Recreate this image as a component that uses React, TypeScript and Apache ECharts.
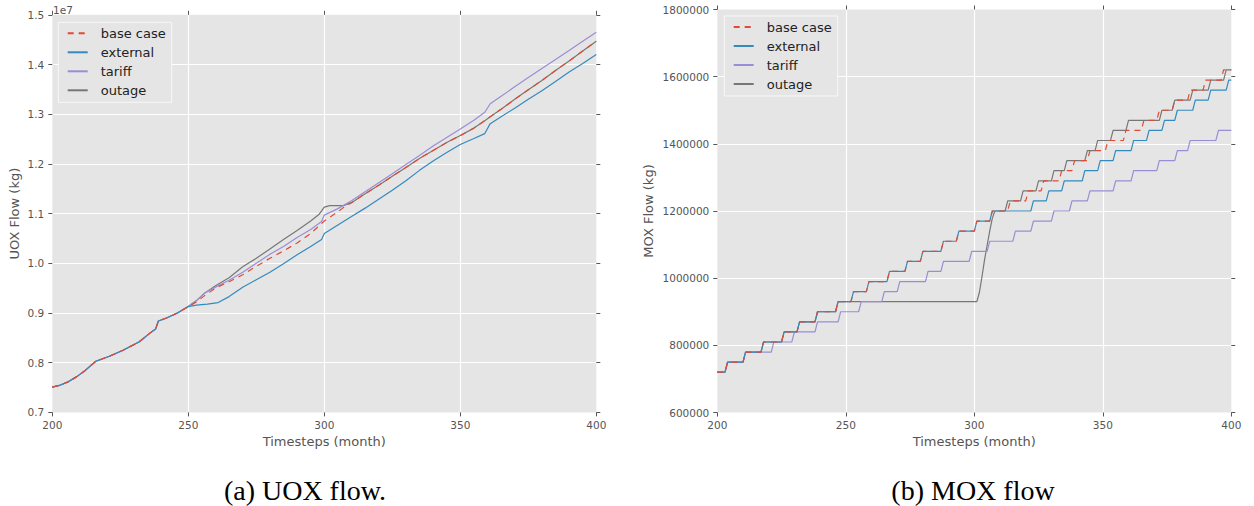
import React, { useEffect, useRef } from "react";
import * as echarts from "echarts";

// ---------- Colours ----------
const C_BASE = "#E24A33";
const C_EXTERNAL = "#348ABD";
const C_TARIFF = "#988ED5";
const C_OUTAGE = "#777777";

const SERIES_NAMES = ["base case", "external", "tariff", "outage"];

// ---------- UOX flow (units of 1e7 kg), [month, value] ----------
const uoxCommon: [number, number][] = [
  [200, 0.751], [203, 0.755], [206, 0.762], [209, 0.772], [212, 0.784], [216, 0.803],
  [221, 0.813], [226, 0.825], [232, 0.842], [236, 0.860], [238, 0.868], [239, 0.884],
  [242, 0.890], [246, 0.900], [250, 0.913],
];
const uoxBaseTail: [number, number][] = [
  [253, 0.922], [256, 0.935], [260, 0.950], [265, 0.963], [270, 0.977], [275, 0.994],
  [280, 1.010], [285, 1.025], [290, 1.041], [295, 1.060], [300, 1.085], [304, 1.100],
  [307, 1.112], [310, 1.122], [315, 1.140], [320, 1.157], [325, 1.175], [330, 1.193],
  [335, 1.211], [340, 1.227], [345, 1.243], [350, 1.257], [355, 1.272], [359, 1.287],
  [361, 1.295], [365, 1.310], [370, 1.330], [375, 1.349], [380, 1.368], [385, 1.388],
  [390, 1.407], [395, 1.427], [400, 1.447],
];
const uoxExternalTail: [number, number][] = [
  [253, 0.916], [257, 0.918], [261, 0.921], [265, 0.933], [270, 0.952], [275, 0.967],
  [280, 0.982], [285, 0.999], [290, 1.017], [295, 1.034], [299, 1.048], [300, 1.060],
  [305, 1.077], [310, 1.094], [315, 1.111], [320, 1.129], [325, 1.147], [330, 1.166],
  [335, 1.187], [340, 1.206], [345, 1.223], [350, 1.239], [355, 1.251], [359, 1.261],
  [361, 1.281], [365, 1.295], [370, 1.312], [375, 1.330], [380, 1.347], [385, 1.366],
  [390, 1.385], [395, 1.402], [400, 1.420],
];
const uoxTariffTail: [number, number][] = [
  [253, 0.925], [256, 0.940], [260, 0.952], [265, 0.966], [270, 0.982], [275, 1.000],
  [280, 1.018], [285, 1.034], [290, 1.052], [295, 1.068], [299, 1.084], [300, 1.097],
  [305, 1.110], [310, 1.126], [315, 1.144], [320, 1.162], [325, 1.180], [330, 1.199],
  [335, 1.217], [340, 1.236], [345, 1.253], [350, 1.270], [355, 1.288], [359, 1.304],
  [361, 1.321], [365, 1.336], [370, 1.355], [375, 1.374], [380, 1.392], [385, 1.410],
  [390, 1.428], [395, 1.447], [400, 1.465],
];
const uoxOutageTail: [number, number][] = [
  [253, 0.925], [256, 0.940], [260, 0.955], [265, 0.971], [270, 0.993], [275, 1.010],
  [280, 1.029], [285, 1.048], [290, 1.066], [295, 1.085], [298, 1.098], [300, 1.113],
  [302, 1.116], [307, 1.116], [310, 1.122], [315, 1.140], [320, 1.157], [325, 1.175],
  [330, 1.193], [335, 1.211], [340, 1.227], [345, 1.243], [350, 1.257], [355, 1.272],
  [359, 1.287], [361, 1.295], [365, 1.310], [370, 1.330], [375, 1.349], [380, 1.368],
  [385, 1.388], [390, 1.407], [395, 1.427], [400, 1.447],
];

// ---------- MOX flow (kg): [month where level is reached, level] ----------
const moxBaseSteps: [number, number][] = [
  [200, 720000], [204, 750000], [211, 780000], [218, 810000], [226, 840000], [232, 870000],
  [239, 900000], [247, 930000], [253, 960000], [259, 990000], [267, 1020000], [274, 1050000],
  [280, 1080000], [288, 1110000], [294, 1140000], [301, 1170000], [307, 1200000], [314, 1230000],
  [321, 1260000], [327, 1290000], [334, 1320000], [339, 1350000], [345, 1380000], [352, 1410000],
  [359, 1440000], [366, 1470000], [372, 1500000], [378, 1530000], [384, 1560000], [390, 1590000],
  [397, 1620000],
];
const moxExternalSteps: [number, number][] = [
  [200, 720000], [204, 750000], [211, 780000], [218, 810000], [226, 840000], [232, 870000],
  [239, 900000], [247, 930000], [253, 960000], [259, 990000], [267, 1020000], [274, 1050000],
  [280, 1080000], [288, 1110000], [294, 1140000], [301, 1170000], [307, 1200000], [323, 1230000],
  [329, 1260000], [335, 1290000], [343, 1320000], [349, 1350000], [355, 1380000], [362, 1410000],
  [368, 1440000], [374, 1470000], [379, 1500000], [386, 1530000], [392, 1560000], [399, 1590000],
];
const moxTariffSteps: [number, number][] = [
  [200, 720000], [204, 750000], [211, 780000], [222, 810000], [230, 840000], [239, 870000],
  [248, 900000], [256, 930000], [265, 960000], [271, 990000], [282, 1020000], [288, 1050000],
  [299, 1080000], [306, 1110000], [316, 1140000], [323, 1170000], [331, 1200000], [338, 1230000],
  [345, 1260000], [355, 1290000], [362, 1320000], [372, 1350000], [379, 1380000], [384, 1410000],
  [395, 1440000],
];
const moxOutageSteps: [number, number][] = [
  [200, 720000], [204, 750000], [211, 780000], [218, 810000], [226, 840000], [232, 870000],
  [239, 900000], [247, 930000], [302, 958000], [303, 1005000], [304, 1055000], [305, 1098000],
  [306, 1140000], [307, 1178000], [308, 1200000], [313, 1230000], [319, 1260000], [325, 1290000],
  [331, 1320000], [336, 1350000], [344, 1380000], [348, 1410000], [354, 1440000], [360, 1470000],
  [373, 1500000], [378, 1530000], [385, 1560000], [392, 1590000], [398, 1620000],
];

const X_MIN = 200;
const X_MAX = 400;
const UOX_TICKS = [0.7, 0.8, 0.9, 1.0, 1.1, 1.2, 1.3, 1.4, 1.5];
const MOX_TICKS = [600000, 800000, 1000000, 1200000, 1400000, 1600000, 1800000];

function stepPoints(steps: [number, number][], end: number): [number, number][] {
  const pts: [number, number][] = [];
  steps.forEach(([m, v], i) => {
    if (i === 0) pts.push([m, v]);
    else {
      pts.push([m - 1, steps[i - 1][1]]);
      pts.push([m, v]);
    }
  });
  pts.push([end, steps[steps.length - 1][1]]);
  return pts;
}

const FONT = "DejaVu Sans";
const TICK_COLOR = "#555555";

function xAxes(gridIndex: number, withName: boolean) {
  const common = {
    type: "value",
    gridIndex,
    min: X_MIN,
    max: X_MAX,
    interval: 50,
    axisLine: { show: false },
    axisTick: { show: true, inside: false, length: 4, lineStyle: { color: TICK_COLOR, width: 1 } },
  };
  return [
    {
      ...common,
      position: "bottom",
      name: withName ? "Timesteps (month)" : "",
      nameLocation: "middle",
      nameGap: 22,
      nameTextStyle: { fontFamily: FONT, fontSize: 13, color: TICK_COLOR },
      axisLabel: { show: true, margin: 7, fontFamily: FONT, fontSize: 10.5, color: TICK_COLOR },
      splitLine: { show: true, showMinLine: false, showMaxLine: false, lineStyle: { color: "#ffffff", width: 1.2 } },
    },
    {
      ...common,
      position: "top",
      axisLabel: { show: false },
      splitLine: { show: false },
    },
  ];
}

function yAxes(gridIndex: number, min: number, max: number, interval: number, name: string, nameGap: number, fmt: (v: number) => string) {
  const common = {
    type: "value",
    gridIndex,
    min,
    max,
    interval,
    axisLine: { show: false },
    axisTick: { show: true, inside: false, length: 4, lineStyle: { color: TICK_COLOR, width: 1 } },
  };
  return [
    {
      ...common,
      position: "left",
      name,
      nameLocation: "middle",
      nameGap,
      nameTextStyle: { fontFamily: FONT, fontSize: 13, color: TICK_COLOR },
      axisLabel: { show: true, margin: 8, fontFamily: FONT, fontSize: 10.5, color: TICK_COLOR, formatter: fmt },
      splitLine: { show: true, showMinLine: false, showMaxLine: false, lineStyle: { color: "#ffffff", width: 1.2 } },
    },
    {
      ...common,
      position: "right",
      axisLabel: { show: false },
      splitLine: { show: false },
    },
  ];
}

function lineSeries(name: string, color: string, data: [number, number][], xi: number, yi: number, dashed: boolean) {
  return {
    type: "line",
    name,
    xAxisIndex: xi,
    yAxisIndex: yi,
    data,
    showSymbol: false,
    symbol: "none",
    lineStyle: { color, width: 1.2, type: dashed ? [6, 5] : "solid" },
    itemStyle: { color },
    emphasis: { disabled: true },
  };
}

function legendAt(left: number, top: number) {
  return {
    show: true,
    orient: "vertical",
    left,
    top,
    data: SERIES_NAMES,
    itemWidth: 20,
    itemHeight: 13,
    itemGap: 6,
    padding: [4.5, 6, 5.5, 8.4],
    backgroundColor: "#E5E5E5",
    borderColor: "#f8f8f8",
    borderWidth: 1,
    borderRadius: 0,
    selectedMode: false,
    itemStyle: { opacity: 0 },
    textStyle: { fontFamily: FONT, fontSize: 13, color: "#222222", padding: [0, 0, 0, 8] },
  };
}

export default function App() {
  const ref = useRef<HTMLDivElement>(null);

  useEffect(() => {
    if (!ref.current) return;
    const chart = echarts.init(ref.current, undefined, { renderer: "svg" });

    const uoxBase = [...uoxCommon, ...uoxBaseTail];
    const uoxExternal = [...uoxCommon, ...uoxExternalTail];
    const uoxTariff = [...uoxCommon, ...uoxTariffTail];
    const uoxOutage = [...uoxCommon, ...uoxOutageTail];

    const option: any = {
      animation: false,
      backgroundColor: "#ffffff",
      grid: [
        { left: 52.3, top: 14.8, width: 544, height: 397.6, show: true, backgroundColor: "#E5E5E5", borderWidth: 0, containLabel: false },
        { left: 717.3, top: 9.5, width: 514, height: 403, show: true, backgroundColor: "#E5E5E5", borderWidth: 0, containLabel: false },
      ],
      xAxis: [...xAxes(0, true), ...xAxes(1, true)],
      yAxis: [
        ...yAxes(0, UOX_TICKS[0], UOX_TICKS[UOX_TICKS.length - 1], 0.1, "UOX Flow (kg)", 31.8, (v: number) => v.toFixed(1)),
        ...yAxes(1, MOX_TICKS[0], MOX_TICKS[MOX_TICKS.length - 1], 200000, "MOX Flow (kg)", 62.8, (v: number) => String(Math.round(v))),
      ],
      legend: [legendAt(58.3, 22.3), legendAt(724.3, 16)],
      series: [
        // left (UOX)
        lineSeries("outage", C_OUTAGE, uoxOutage, 0, 0, false),
        lineSeries("tariff", C_TARIFF, uoxTariff, 0, 0, false),
        lineSeries("external", C_EXTERNAL, uoxExternal, 0, 0, false),
        lineSeries("base case", C_BASE, uoxBase, 0, 0, true),
        // right (MOX)
        lineSeries("outage", C_OUTAGE, stepPoints(moxOutageSteps, X_MAX), 2, 2, false),
        lineSeries("tariff", C_TARIFF, stepPoints(moxTariffSteps, X_MAX), 2, 2, false),
        lineSeries("external", C_EXTERNAL, stepPoints(moxExternalSteps, X_MAX), 2, 2, false),
        lineSeries("base case", C_BASE, stepPoints(moxBaseSteps, X_MAX), 2, 2, true),
      ],
      graphic: [
        { type: "text", left: 53, top: 4, style: { text: "1e7", fontFamily: FONT, fontSize: 10.5, fill: TICK_COLOR } },
        { type: "text", x: 305, y: 490, style: { text: "(a) UOX flow.", fontFamily: "Liberation Serif", fontSize: 28, fill: "#000", align: "center", verticalAlign: "middle" } },
        { type: "text", x: 973, y: 490, style: { text: "(b) MOX flow", fontFamily: "Liberation Serif", fontSize: 28, fill: "#000", align: "center", verticalAlign: "middle" } },
      ],
    };

    chart.setOption(option);
    return () => chart.dispose();
  }, []);

  return (
    <div
      ref={ref}
      style={{ position: "absolute", left: 0, top: 0, width: 1254, height: 506, background: "#fff" }}
    />
  );
}
